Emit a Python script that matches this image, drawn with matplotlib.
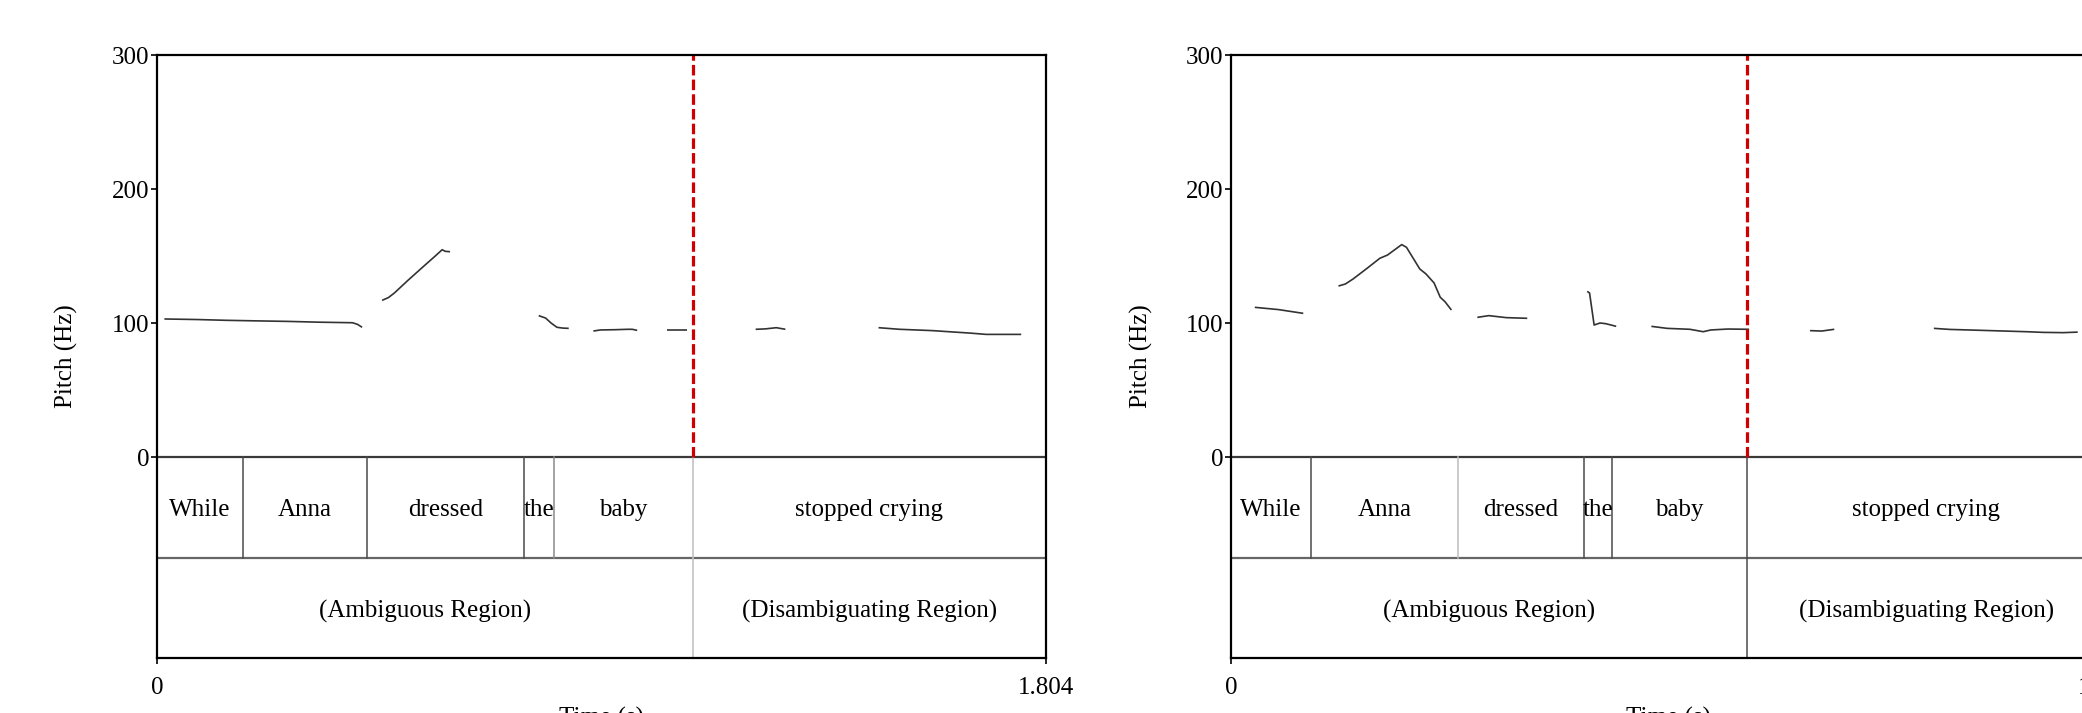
import matplotlib.pyplot as plt

plt.rcParams['font.family'] = ['Liberation Serif', 'DejaVu Serif']

# ---- data ----
words = ["While", "Anna", "dressed", "the", "baby", "stopped crying"]
regions = ["(Ambiguous Region)", "(Disambiguating Region)"]

# left recording
dur_a = 1.804
bounds_a = [0, 0.174, 0.426, 0.746, 0.806, 1.088, 1.804]
split_a = 1.088
pitch_t_a = [
    [0.015, 0.08, 0.141, 0.20, 0.265, 0.33, 0.397, 0.407, 0.4165],
    [0.457, 0.470, 0.482, 0.51, 0.545, 0.565, 0.579, 0.585, 0.595],
    [0.775, 0.789, 0.800, 0.812, 0.824, 0.836],
    [0.886, 0.90, 0.93, 0.956, 0.965, 0.975],
    [1.036, 1.076],
    [1.2155, 1.235, 1.2575, 1.2758],
    [1.465, 1.5077, 1.5753, 1.6159, 1.6497, 1.6836, 1.7547],
]
pitch_hz_a = [
    [103, 102.6, 102, 101.6, 101.2, 100.6, 100.2, 99, 96.8],
    [116.9, 119, 122.4, 132, 143.5, 150, 154.7, 153.5, 153.2],
    [105.5, 103.7, 100, 96.8, 96.2, 96],
    [94, 94.8, 95, 95.3, 95.3, 94.5],
    [94.5, 94.5],
    [95.3, 95.6, 96.5, 95.3],
    [96.5, 95.3, 94.3, 93.3, 92.5, 91.5, 91.5],
]

# right recording
dur_b = 1.84
bounds_b = [0, 0.169, 0.477, 0.742, 0.802, 1.085, 1.84]
split_b = 1.085
pitch_t_b = [
    [0.050, 0.10, 0.152],
    [0.226, 0.2405, 0.2565, 0.285, 0.313, 0.329, 0.359, 0.369, 0.397,
     0.410, 0.427, 0.440, 0.450, 0.4635],
    [0.518, 0.542, 0.579, 0.623],
    [0.749, 0.754, 0.7636, 0.776, 0.788, 0.810],
    [0.884, 0.917, 0.965, 0.993, 1.009, 1.045, 1.0895],
    [1.2176, 1.2422, 1.2686],
    [1.478, 1.512, 1.561, 1.617, 1.673, 1.708, 1.750, 1.7805],
]
pitch_hz_b = [
    [111.7, 110, 107.2],
    [127.6, 129.1, 132.8, 140.5, 148.3, 150.7, 158.5, 156.5, 140.3,
     136.6, 129.9, 119.2, 115.9, 109.7],
    [104.2, 105.5, 104, 103.5],
    [123.6, 122.4, 98.5, 100, 99.5, 97.5],
    [97.5, 96, 95.3, 93.5, 94.8, 95.5, 95.3],
    [94.3, 94.0, 95.3],
    [96, 95.2, 94.7, 94.1, 93.5, 93, 92.8, 93.2],
]

DARK = '#4a4a4a'
LIGHT = '#bdbdbd'
FS = 18
TIER = 75  # each tier takes 75 "Hz" of height below zero


def draw_panel(ax, dur, bounds, split, pt, phz, shades, split_shade):
    ax.set_xlim(0, dur)
    ax.set_ylim(-2 * TIER, 300)

    for t, h in zip(pt, phz):
        ax.plot(t, h, color='#333333', lw=1.2, solid_capstyle='butt')

    # tiers
    ax.axhline(0, color='#3a3a3a', lw=1.6)
    ax.axhline(-TIER, color='#666666', lw=1.6)
    for b, c in zip(bounds[1:-1], shades):
        ax.plot([b, b], [0, -TIER], color=c, lw=1.1)
    ax.plot([split, split], [-TIER, -2 * TIER], color=split_shade, lw=1.1)

    for i, w in enumerate(words):
        ax.text((bounds[i] + bounds[i + 1]) / 2, -TIER / 2 - 2, w,
                ha='center', va='center', fontsize=FS)
    ax.text(split / 2, -1.5 * TIER - 3, regions[0],
            ha='center', va='center', fontsize=FS)
    ax.text((split + dur) / 2, -1.5 * TIER - 3, regions[1],
            ha='center', va='center', fontsize=FS)

    # boundary between ambiguous / disambiguating part
    ax.plot([split, split], [0, 300], color='#d00000', lw=2.3,
            dashes=(3.3, 1.3))

    ax.set_yticks([0, 100, 200, 300])
    ax.set_xticks([0, dur])
    ax.set_xticklabels(["0", f"{dur:.3f}"])
    ax.tick_params(axis='both', direction='out', length=4.5, width=1.2,
                   labelsize=FS, color='black')
    ax.tick_params(axis='y', pad=1)
    ax.tick_params(axis='x', pad=9)
    for s in ax.spines.values():
        s.set_linewidth(1.6)
        s.set_color('black')
    ax.set_ylabel('Pitch (Hz)', fontsize=FS)
    ax.yaxis.set_label_coords(-79 / 888, 0.5)
    ax.set_xlabel('Time (s)', fontsize=FS, labelpad=6)


fig = plt.figure(figsize=(20.82, 7.13), dpi=100)
ax1 = fig.add_axes([157 / 2082, 1 - 658 / 713, 888.5 / 2082, 603 / 713])
ax2 = fig.add_axes([1231 / 2082, 1 - 658 / 713, 875 / 2082, 603 / 713])

draw_panel(ax1, dur_a, bounds_a, split_a, pitch_t_a, pitch_hz_a,
           [DARK, DARK, DARK, '#8a8a8a', LIGHT], LIGHT)
draw_panel(ax2, dur_b, bounds_b, split_b, pitch_t_b, pitch_hz_b,
           [DARK, LIGHT, DARK, DARK, DARK], DARK)

fig.savefig('out.png', dpi=100)
